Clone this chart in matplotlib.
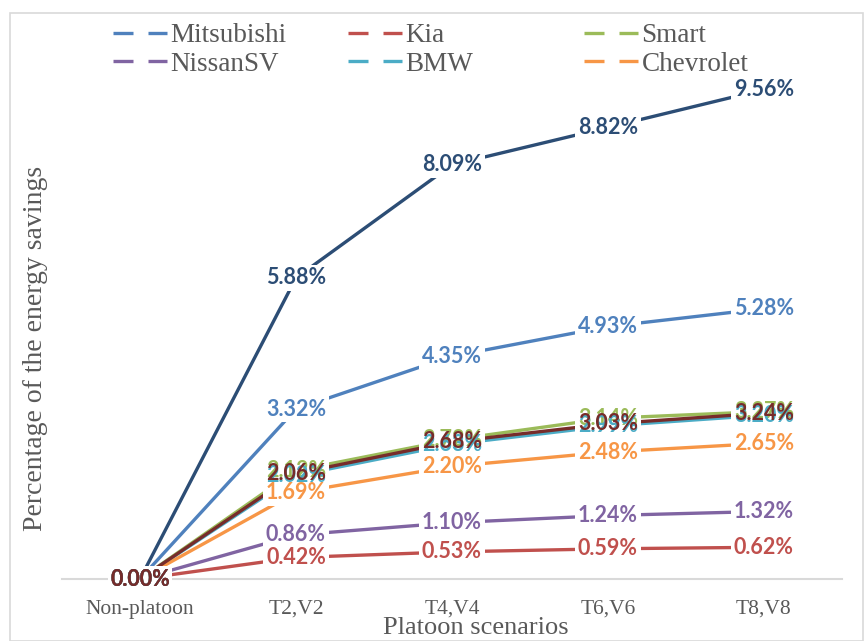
import matplotlib.pyplot as plt
import matplotlib.patches as patches
from matplotlib.lines import Line2D

# Data
scenarios = ["Non-platoon", "T2,V2", "T4,V4", "T6,V6", "T8,V8"]
mitsubishi = [0.00, 3.32, 4.35, 4.93, 5.28]
kia = [0.00, 0.42, 0.53, 0.59, 0.62]
smart = [0.00, 2.12, 2.72, 3.14, 3.27]
nissan_sv = [0.00, 0.86, 1.10, 1.24, 1.32]
bmw = [0.00, 2.02, 2.63, 2.99, 3.20]
chevrolet = [0.00, 1.69, 2.20, 2.48, 2.65]
series7 = [0.00, 5.88, 8.09, 8.82, 9.56]
series8 = [0.00, 2.06, 2.68, 3.03, 3.24]

series = [
    ("Mitsubishi", mitsubishi, "#4F81BD"),
    ("Kia", kia, "#C0504D"),
    ("Smart", smart, "#9BBB59"),
    ("NissanSV", nissan_sv, "#8064A2"),
    ("BMW", bmw, "#4BACC6"),
    ("Chevrolet", chevrolet, "#F79646"),
    ("_s7", series7, "#2C4D75"),
    ("_s8", series8, "#772C2A"),
]

W, H = 865, 641
fig = plt.figure(figsize=(W / 100, H / 100), dpi=100)

# plot area in pixel coords
left, right, bottom, top = 62, 842, 579, 67
ax = fig.add_axes([left / W, 1 - bottom / H, (right - left) / W, (bottom - top) / H])

x = list(range(len(scenarios)))
for name, vals, color in series:
    ax.plot(x, vals, color=color, lw=2.4, solid_capstyle="butt", zorder=2)

# data labels: white masks first (hide line under labels), then text on top
lab_font = dict(family="Lato", weight="bold", fontsize=15.5)
for name, vals, color in series:
    for xi, v in zip(x, vals):
        ax.text(xi, v, f"{v:.2f}%", color="white", ha="center", va="center",
                bbox=dict(boxstyle="square,pad=0.12", fc="white", ec="none"),
                zorder=3, clip_on=False, **lab_font)
for name, vals, color in series:
    for xi, v in zip(x, vals):
        ax.text(xi, v, f"{v:.2f}%", color=color, ha="center", va="center",
                zorder=4, clip_on=False, **lab_font)

ax.set_xlim(-0.5, len(scenarios) - 0.5)
ax.set_ylim(0, 10)
ax.set_xticks(x)
ax.set_xticklabels(scenarios, family="Liberation Serif", fontsize=15.5, color="#595959")
ax.tick_params(axis="x", length=0, pad=15)
ax.set_yticks([])
for s in ["top", "right", "left"]:
    ax.spines[s].set_visible(False)
ax.spines["bottom"].set_color("#D9D9D9")
ax.spines["bottom"].set_linewidth(1.5)
ax.spines["bottom"].set_zorder(1)
ax.patch.set_alpha(0)

ax.set_xlabel("Platoon scenarios", family="Liberation Serif", fontsize=19, color="#595959")
ax.xaxis.set_label_coords((476 - left) / (right - left), (bottom - 628) / (bottom - top))
ax.xaxis.label.set_va("center")
ax.set_ylabel("Percentage of the energy savings", family="Liberation Serif", fontsize=20,
              color="#595959")
ax.yaxis.set_label_coords((35 - left) / (right - left), (bottom - 348) / (bottom - top))
ax.yaxis.label.set_va("center")

# outer chart border
fig.patches.append(patches.Rectangle((10 / W, 0), (W - 12) / W, 1 - 13 / H,
                                     transform=fig.transFigure, fill=False,
                                     ec="#D9D9D9", lw=1.2))

# legend: three columns placed like the Excel grid
col_x = [113, 348, 584]
cols = [[0, 3], [1, 4], [2, 5]]
for cx, idx in zip(col_x, cols):
    handles = [Line2D([], [], color=series[i][2], lw=2.4, dashes=(6.0, 4.5),
                      solid_capstyle="butt") for i in idx]
    labels = [series[i][0] for i in idx]
    fig.legend(handles, labels, loc="center left", bbox_to_anchor=(cx / W, 1 - 50 / H),
               frameon=False, borderpad=0, borderaxespad=0, handlelength=2.0,
               handletextpad=0.12, labelspacing=0.12,
               prop=dict(family="Liberation Serif", size=19.5), labelcolor="#595959")

fig.savefig("out.png", dpi=100)
